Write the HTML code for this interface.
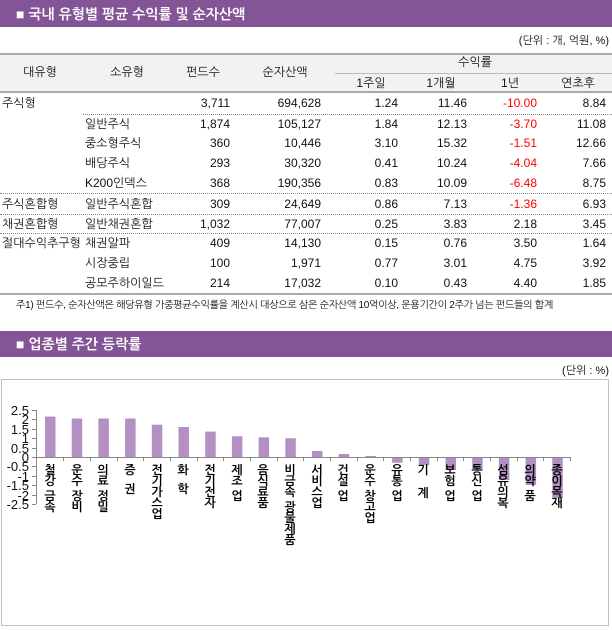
<!DOCTYPE html>
<html><head><meta charset="utf-8">
<style>
body{margin:0;width:612px;height:630px;position:relative;background:#fff;overflow:hidden;font-family:"Liberation Sans","NanumGothic","Noto Sans CJK KR",sans-serif;font-size:12px;color:#111}
.a{position:absolute;white-space:nowrap;line-height:14px}
.r{text-align:right}
.c{text-align:center}
.bar{position:absolute;left:0;width:612px;background:#835597;color:#fff;font-size:14px;font-weight:bold}
.neg{color:#f00}
.dot{position:absolute;height:0;border-top:1px dotted #888}
.vl{position:absolute;top:464px;writing-mode:vertical-lr;text-orientation:upright;font-size:12px;letter-spacing:-1px;line-height:14px;color:#000;font-weight:bold;width:14px;white-space:nowrap}
.vl i{display:inline-block;height:4px;width:1px}
</style></head><body>
<div class="bar" style="top:0;height:27px;"><span class="a" style="left:16px;top:6px;line-height:16px">■ 국내 유형별 평균 수익률 및 순자산액</span></div>
<div class="a r" style="right:3px;top:34px;font-size:11px">(단위 : 개, 억원, %)</div>
<div style="position:absolute;left:0;top:53px;width:612px;height:40px;background:#f2f2f2;border-top:2px solid #aaa;border-bottom:2px solid #aaa;box-sizing:border-box"></div>
<div style="position:absolute;left:335px;top:73px;width:277px;border-top:1px solid #bbb"></div>
<div class="a c" style="left:10px;width:60px;top:65px">대유형</div>
<div class="a c" style="left:97px;width:60px;top:65px">소유형</div>
<div class="a c" style="left:173px;width:60px;top:65px">펀드수</div>
<div class="a c" style="left:255px;width:60px;top:65px">순자산액</div>
<div class="a c" style="left:445px;width:60px;top:55px">수익률</div>
<div class="a c" style="left:341px;width:60px;top:76px">1주일</div>
<div class="a c" style="left:411px;width:60px;top:76px">1개월</div>
<div class="a c" style="left:480px;width:60px;top:76px">1년</div>
<div class="a c" style="left:548px;width:60px;top:76px">연초후</div>

<div class="dot" style="left:83px;width:529px;top:114px"></div>
<div class="dot" style="left:0;width:612px;top:193px"></div>
<div class="dot" style="left:0;width:612px;top:214px"></div>
<div class="dot" style="left:0;width:612px;top:233px"></div>
<div style="position:absolute;left:0;top:293px;width:612px;border-top:2px solid #aaa"></div>

<div class="a" style="left:2px;top:96px">주식형</div>
<div class="a r" style="right:382px;top:96px">3,711</div><div class="a r" style="right:291px;top:96px">694,628</div><div class="a r" style="right:214px;top:96px">1.24</div><div class="a r" style="right:145px;top:96px">11.46</div><div class="a r neg" style="right:75px;top:96px">-10.00</div><div class="a r" style="right:6px;top:96px">8.84</div>

<div class="a" style="left:85px;top:117px">일반주식</div>
<div class="a r" style="right:382px;top:117px">1,874</div><div class="a r" style="right:291px;top:117px">105,127</div><div class="a r" style="right:214px;top:117px">1.84</div><div class="a r" style="right:145px;top:117px">12.13</div><div class="a r neg" style="right:75px;top:117px">-3.70</div><div class="a r" style="right:6px;top:117px">11.08</div>

<div class="a" style="left:85px;top:136px">중소형주식</div>
<div class="a r" style="right:382px;top:136px">360</div><div class="a r" style="right:291px;top:136px">10,446</div><div class="a r" style="right:214px;top:136px">3.10</div><div class="a r" style="right:145px;top:136px">15.32</div><div class="a r neg" style="right:75px;top:136px">-1.51</div><div class="a r" style="right:6px;top:136px">12.66</div>

<div class="a" style="left:85px;top:156px">배당주식</div>
<div class="a r" style="right:382px;top:156px">293</div><div class="a r" style="right:291px;top:156px">30,320</div><div class="a r" style="right:214px;top:156px">0.41</div><div class="a r" style="right:145px;top:156px">10.24</div><div class="a r neg" style="right:75px;top:156px">-4.04</div><div class="a r" style="right:6px;top:156px">7.66</div>

<div class="a" style="left:85px;top:176px">K200인덱스</div>
<div class="a r" style="right:382px;top:176px">368</div><div class="a r" style="right:291px;top:176px">190,356</div><div class="a r" style="right:214px;top:176px">0.83</div><div class="a r" style="right:145px;top:176px">10.09</div><div class="a r neg" style="right:75px;top:176px">-6.48</div><div class="a r" style="right:6px;top:176px">8.75</div>

<div class="a" style="left:2px;top:197px">주식혼합형</div>
<div class="a" style="left:85px;top:197px">일반주식혼합</div>
<div class="a r" style="right:382px;top:197px">309</div><div class="a r" style="right:291px;top:197px">24,649</div><div class="a r" style="right:214px;top:197px">0.86</div><div class="a r" style="right:145px;top:197px">7.13</div><div class="a r neg" style="right:75px;top:197px">-1.36</div><div class="a r" style="right:6px;top:197px">6.93</div>

<div class="a" style="left:2px;top:217px">채권혼합형</div>
<div class="a" style="left:85px;top:217px">일반채권혼합</div>
<div class="a r" style="right:382px;top:217px">1,032</div><div class="a r" style="right:291px;top:217px">77,007</div><div class="a r" style="right:214px;top:217px">0.25</div><div class="a r" style="right:145px;top:217px">3.83</div><div class="a r" style="right:75px;top:217px">2.18</div><div class="a r" style="right:6px;top:217px">3.45</div>

<div class="a" style="left:2px;top:236px">절대수익추구형</div>
<div class="a" style="left:85px;top:236px">채권알파</div>
<div class="a r" style="right:382px;top:236px">409</div><div class="a r" style="right:291px;top:236px">14,130</div><div class="a r" style="right:214px;top:236px">0.15</div><div class="a r" style="right:145px;top:236px">0.76</div><div class="a r" style="right:75px;top:236px">3.50</div><div class="a r" style="right:6px;top:236px">1.64</div>

<div class="a" style="left:85px;top:256px">시장중립</div>
<div class="a r" style="right:382px;top:256px">100</div><div class="a r" style="right:291px;top:256px">1,971</div><div class="a r" style="right:214px;top:256px">0.77</div><div class="a r" style="right:145px;top:256px">3.01</div><div class="a r" style="right:75px;top:256px">4.75</div><div class="a r" style="right:6px;top:256px">3.92</div>

<div class="a" style="left:85px;top:276px">공모주하이일드</div>
<div class="a r" style="right:382px;top:276px">214</div><div class="a r" style="right:291px;top:276px">17,032</div><div class="a r" style="right:214px;top:276px">0.10</div><div class="a r" style="right:145px;top:276px">0.43</div><div class="a r" style="right:75px;top:276px">4.40</div><div class="a r" style="right:6px;top:276px">1.85</div>

<div class="a" style="left:16px;top:299px;font-size:10px;letter-spacing:-0.3px">주1) 펀드수, 순자산액은 해당유형 가중평균수익률을 계산시 대상으로 삼은 순자산액 10억이상, 운용기간이 2주가 넘는 펀드들의 합계</div>

<div class="bar" style="top:331px;height:26px;"><span class="a" style="left:16px;top:5px;line-height:16px">■ 업종별 주간 등락률</span></div>
<div class="a r" style="right:3px;top:364px;font-size:11px">(단위 : %)</div>

<svg style="position:absolute;left:0;top:0" width="612" height="630">
<rect x="1.5" y="379.5" width="607" height="246" fill="none" stroke="#c0c0c0"/>
<g fill="#b38fc4">
<rect x="45" y="416.6" width="10.5" height="40.4"/>
<rect x="71.7" y="418.5" width="10.5" height="38.5"/>
<rect x="98.4" y="418.5" width="10.5" height="38.5"/>
<rect x="125.1" y="418.5" width="10.5" height="38.5"/>
<rect x="151.8" y="424.7" width="10.5" height="32.3"/>
<rect x="178.5" y="427" width="10.5" height="30"/>
<rect x="205.2" y="431.6" width="10.5" height="25.4"/>
<rect x="231.9" y="436.3" width="10.5" height="20.7"/>
<rect x="258.6" y="437.3" width="10.5" height="19.7"/>
<rect x="285.3" y="438.2" width="10.5" height="18.8"/>
<rect x="312" y="451" width="10.5" height="6"/>
<rect x="338.7" y="454" width="10.5" height="3"/>
<rect x="365.4" y="456" width="10.5" height="1"/>
<rect x="392.1" y="457" width="10.5" height="5.7"/>
<rect x="418.8" y="457" width="10.5" height="8"/>
<rect x="445.5" y="457" width="10.5" height="13"/>
<rect x="472.2" y="457" width="10.5" height="13"/>
<rect x="498.9" y="457" width="10.5" height="23"/>
<rect x="525.6" y="457" width="10.5" height="28"/>
<rect x="552.3" y="457" width="10.5" height="41"/>
</g>
<g stroke="#888" stroke-width="1">
<line x1="36.5" y1="410" x2="36.5" y2="504"/>
<line x1="36" y1="457.5" x2="570" y2="457.5"/>
<path d="M32 410.5h4M32 419.5h4M32 429.5h4M32 438.5h4M32 448.5h4M32 457.5h4M32 466.5h4M32 476.5h4M32 485.5h4M32 495.5h4M32 504.5h4"/>
<path d="M63.5 457v4M90.5 457v4M117.5 457v4M143.5 457v4M170.5 457v4M197.5 457v4M223.5 457v4M250.5 457v4M277.5 457v4M303.5 457v4M330.5 457v4M357.5 457v4M383.5 457v4M410.5 457v4M437.5 457v4M463.5 457v4M490.5 457v4M517.5 457v4M543.5 457v4M570.5 457v4"/>
</g>
<g font-family="Liberation Sans, sans-serif" font-size="13" fill="#111" text-anchor="end">
<text x="29" y="415">2.5</text><text x="29" y="424">2</text><text x="29" y="434">1.5</text><text x="29" y="443">1</text><text x="29" y="453">0.5</text><text x="29" y="462">0</text><text x="29" y="471">-0.5</text><text x="29" y="481">-1</text><text x="29" y="490">-1.5</text><text x="29" y="500">-2</text><text x="29" y="509">-2.5</text>
</g>
</svg>
<div class="vl" style="left:43px">철강<i></i>금속</div>
<div class="vl" style="left:70px">운수<i></i>장비</div>
<div class="vl" style="left:96px">의료<i></i>정밀</div>
<div class="vl" style="left:123px">증<i></i><i></i>권</div>
<div class="vl" style="left:150px">전기가스업</div>
<div class="vl" style="left:176px">화<i></i><i></i>학</div>
<div class="vl" style="left:203px">전기전자</div>
<div class="vl" style="left:230px">제조<i></i>업</div>
<div class="vl" style="left:256px">음식료품</div>
<div class="vl" style="left:283px">비금속<i></i>광물제품</div>
<div class="vl" style="left:310px">서비스업</div>
<div class="vl" style="left:336px">건설<i></i>업</div>
<div class="vl" style="left:363px">운수<i></i>창고업</div>
<div class="vl" style="left:390px">유통<i></i>업</div>
<div class="vl" style="left:416px">기<i></i><i></i><i></i>계</div>
<div class="vl" style="left:443px">보험<i></i>업</div>
<div class="vl" style="left:470px">통신<i></i>업</div>
<div class="vl" style="left:496px">섬유의복</div>
<div class="vl" style="left:523px">의약<i></i>품</div>
<div class="vl" style="left:550px">종이목재</div>
</body></html>
